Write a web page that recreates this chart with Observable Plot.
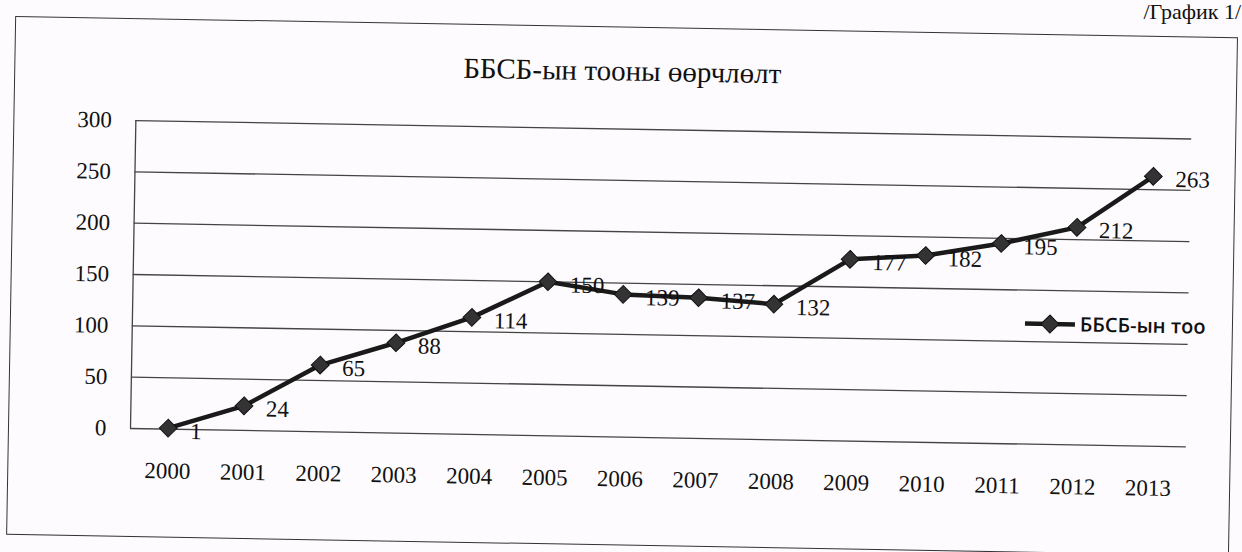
<!DOCTYPE html>
<html>
<head>
<meta charset="utf-8">
<script src="https://cdn.jsdelivr.net/npm/d3@7"></script>
<script src="https://cdn.jsdelivr.net/npm/@observablehq/plot@0.6"></script>
<style>
  html, body { margin: 0; padding: 0; background: #fdfbfd; }
  #page { position: relative; width: 1242px; height: 552px; overflow: hidden; }
  #sheet { position: absolute; left: 0; top: 0; width: 1242px; height: 552px;
           transform-origin: 130px 428px; transform: rotate(1deg); }
  #box { position: absolute; left: 8px; top: 18px; width: 1221px; height: 517px;
         border: 1.5px solid #333; }
  #title { position: absolute; left: 0; width: 1232px; top: 46px; text-align: center;
           font-family: "Liberation Serif", "Times New Roman", serif; font-size: 29px; color: #111; }
  #plot { position: absolute; left: 0; top: 0; }
  #legend { position: absolute; left: 1022px; top: 294px; display: flex; align-items: center;
            font-family: "Open Sans", "Noto Sans", sans-serif; font-size: 20px; font-weight: 600; color: #111; }
  #legend svg { margin-right: 4px; }
  #tag { position: absolute; right: 1px; top: -1px; font-family: "Liberation Serif", serif;
         font-size: 22px; color: #111; }
</style>
</head>
<body>
<div id="page">
  <div id="tag">/График 1/</div>
  <div id="sheet">
    <div id="box"></div>
    <div id="title">ББСБ-ын тооны өөрчлөлт</div>
    <div id="plot"></div>
    <div id="legend"><svg width="52" height="20"><line x1="1" y1="10" x2="51" y2="10" stroke="#1a1a1a" stroke-width="4.5"/><path d="M26,1 L35,10 L26,19 L17,10 Z" fill="#333" stroke="#111"/></svg><span>ББСБ-ын тоо</span></div>
  </div>
</div>
<script>
const years = [2000, 2001, 2002, 2003, 2004, 2005, 2006, 2007, 2008, 2009, 2010, 2011, 2012, 2013];
const counts = [1, 24, 65, 88, 114, 150, 139, 137, 132, 177, 182, 195, 212, 263];
const yTicks = [0, 50, 100, 150, 200, 250, 300];
const seriesName = "ББСБ-ын тоо";

const data = years.map((year, i) => ({year, count: counts[i], series: seriesName}));
const xDomain = [years[0] - 0.5, years[years.length - 1] + 0.5];

const chart = Plot.plot({
  width: 1242,
  height: 552,
  marginLeft: 130,
  marginRight: 56,
  marginTop: 120,
  marginBottom: 124,
  style: {fontFamily: "'Liberation Serif', 'Times New Roman', serif", fontSize: "23px", color: "#111", background: "transparent"},
  x: {domain: xDomain, ticks: years, tickFormat: d => String(d), tickSize: 0, tickPadding: 33, label: null},
  y: {domain: [0, 300], ticks: yTicks, tickSize: 0, tickPadding: 24, label: null},
  marks: [
    Plot.ruleY(yTicks, {x1: xDomain[0], x2: xDomain[1], stroke: "#444", strokeWidth: 1.3}),
    Plot.ruleX([xDomain[0]], {y1: 0, y2: 300, stroke: "#444", strokeWidth: 1.3}),
    Plot.line(data, {x: "year", y: "count", stroke: "#1a1a1a", strokeWidth: 4.5}),
    Plot.dot(data, {x: "year", y: "count", symbol: "diamond2", r: 8, fill: "#333", stroke: "#111", strokeWidth: 1}),
    Plot.text(data, {x: "year", y: "count", text: d => String(d.count), dx: 22, dy: 3, textAnchor: "start", fontSize: 23, fill: "#111"})
  ]
});
document.getElementById("plot").appendChild(chart);
</script>
</body>
</html>
